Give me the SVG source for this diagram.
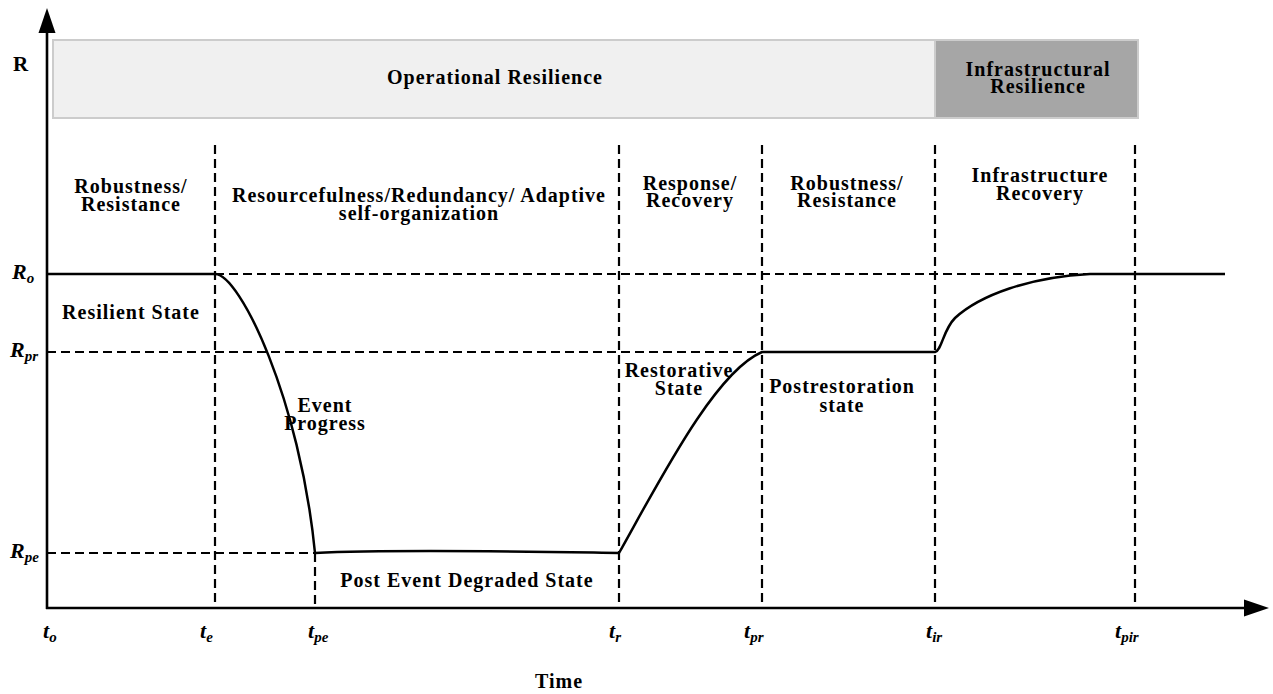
<svg xmlns="http://www.w3.org/2000/svg" width="1273" height="694" viewBox="0 0 1273 694">
<style>
text{font-family:"Liberation Serif","Times New Roman",serif;font-weight:bold;fill:#000;}
.lbl{font-size:20px;letter-spacing:1px;text-anchor:middle;}
.ax{font-size:22px;font-style:italic;}
.sub{font-size:15px;}
.dash{stroke:#000;stroke-width:2.2;stroke-dasharray:9 5;fill:none;}
.axis{stroke:#000;stroke-width:2.6;fill:none;}
.curve{stroke:#000;stroke-width:2.5;fill:none;stroke-linejoin:round;}
</style>
<defs>
<marker id="arr" markerWidth="26" markerHeight="18" refX="0" refY="0" viewBox="0 -9 26 18" markerUnits="userSpaceOnUse" orient="auto" overflow="visible">
<path d="M0,-8.5 L25,0 L0,8.5 Z" fill="#000"/>
</marker>
</defs>
<rect width="1273" height="694" fill="#fff"/>

<g id="band-operational">
<rect x="53" y="40" width="882" height="78" fill="#f0f0f0" stroke="#cccccc" stroke-width="2"/>
<text class="lbl" x="495" y="84">Operational Resilience</text>
</g>
<g id="band-infrastructural">
<rect x="935" y="40" width="203" height="78" fill="#a6a6a6" stroke="#cccccc" stroke-width="2"/>
<text class="lbl" x="1038" y="76">Infrastructural</text>
<text class="lbl" x="1038" y="93">Resilience</text>
</g>

<g id="connectors">
<line class="dash" x1="215" y1="145" x2="215" y2="608"/>
<line class="dash" x1="315" y1="553" x2="315" y2="608"/>
<line class="dash" x1="619" y1="145" x2="619" y2="608"/>
<line class="dash" x1="762" y1="145" x2="762" y2="608"/>
<line class="dash" x1="935" y1="145" x2="935" y2="608"/>
<line class="dash" x1="1135" y1="145" x2="1135" y2="608"/>
<line class="dash" x1="215" y1="274" x2="1225" y2="274"/>
<line class="dash" x1="47" y1="352" x2="762" y2="352"/>
<line class="dash" x1="47" y1="553" x2="315" y2="553"/>
<path class="curve" d="M47 274 L215 274 C240 274 300 400 315 553 C400 549 550 552 619 553 C660 480 715 372 762 352 L935 352 C942 350 943 330 955 318 C980 295 1030 277 1090 274 L1225 274"/>
<line class="axis" x1="47" y1="609" x2="47" y2="33" marker-end="url(#arr)"/>
<line class="axis" x1="46" y1="608" x2="1244" y2="608" marker-end="url(#arr)"/>
</g>

<g id="axis-labels">
<text x="13" y="71" style="font-size:21px">R</text>
<text class="ax" x="12" y="279">R<tspan class="sub" dy="4">o</tspan></text>
<text class="ax" x="10" y="357">R<tspan class="sub" dy="4">pr</tspan></text>
<text class="ax" x="10" y="558">R<tspan class="sub" dy="4">pe</tspan></text>
<text class="ax" x="43" y="638">t<tspan class="sub" dy="4">o</tspan></text>
<text class="ax" x="200" y="638">t<tspan class="sub" dy="4">e</tspan></text>
<text class="ax" x="308" y="638">t<tspan class="sub" dy="4">pe</tspan></text>
<text class="ax" x="609" y="638">t<tspan class="sub" dy="4">r</tspan></text>
<text class="ax" x="744" y="638">t<tspan class="sub" dy="4">pr</tspan></text>
<text class="ax" x="926" y="638">t<tspan class="sub" dy="4">ir</tspan></text>
<text class="ax" x="1115" y="638">t<tspan class="sub" dy="4">pir</tspan></text>
<text class="lbl" x="559" y="688">Time</text>
</g>

<g id="phase-robustness-1">
<text class="lbl" x="131" y="193">Robustness/</text>
<text class="lbl" x="131" y="211">Resistance</text>
</g>
<g id="phase-resourcefulness">
<text class="lbl" x="419" y="202">Resourcefulness/Redundancy/ Adaptive</text>
<text class="lbl" x="419" y="220">self-organization</text>
</g>
<g id="phase-response">
<text class="lbl" x="690" y="190">Response/</text>
<text class="lbl" x="690" y="207">Recovery</text>
</g>
<g id="phase-robustness-2">
<text class="lbl" x="847" y="190">Robustness/</text>
<text class="lbl" x="847" y="207">Resistance</text>
</g>
<g id="phase-infrastructure">
<text class="lbl" x="1040" y="182">Infrastructure</text>
<text class="lbl" x="1040" y="200">Recovery</text>
</g>

<g id="state-resilient"><text class="lbl" x="131" y="319">Resilient State</text></g>
<g id="state-event"><text class="lbl" x="325" y="412">Event</text><text class="lbl" x="325" y="430">Progress</text></g>
<g id="state-restorative"><text class="lbl" x="679" y="377">Restorative</text><text class="lbl" x="679" y="395">State</text></g>
<g id="state-postrestoration"><text class="lbl" x="842" y="393">Postrestoration</text><text class="lbl" x="842" y="412">state</text></g>
<g id="state-degraded"><text class="lbl" x="467" y="587">Post Event Degraded State</text></g>
</svg>
